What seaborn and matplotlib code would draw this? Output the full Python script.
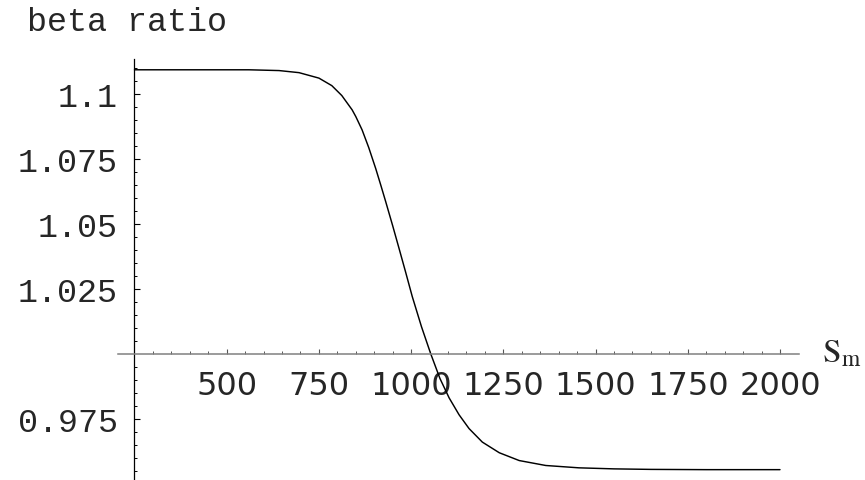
import numpy as np
import pandas as pd
import matplotlib
matplotlib.use("Agg")
import matplotlib.pyplot as plt
import seaborn as sns
from matplotlib.ticker import FixedLocator

# values
s_m = [250, 400, 560, 642, 696, 750, 785, 812, 840, 850, 867, 885, 904, 918, 931,
       950, 967, 985, 1003, 1028, 1053, 1078, 1103, 1130, 1157, 1193, 1239, 1293,
       1365, 1455, 1550, 1650, 1800, 2000]
beta_ratio = [1.1092, 1.1092, 1.1092, 1.1089, 1.1081, 1.1060, 1.1031, 1.0993, 1.0938, 1.0912,
              1.0861, 1.0793, 1.0712, 1.0647, 1.0585, 1.0492, 1.0406, 1.0314, 1.0220, 1.0104,
              1.0000, 0.9905, 0.9830, 0.9765, 0.9712, 0.9660, 0.9619, 0.9589, 0.9570, 0.9561,
              0.9557, 0.9555, 0.9554, 0.9554]

x_ticks = [500, 750, 1000, 1250, 1500, 1750, 2000]
y_ticks = [0.975, 1.025, 1.05, 1.075, 1.1]
y_labels = ["0.975", "1.025", "1.05", "1.075", "1.1"]

df = pd.DataFrame({"Sm": s_m, "beta": beta_ratio})

sns.set_style("white")
plt.rcParams["font.family"] = ["DejaVu Sans"]
plt.rcParams["mathtext.fontset"] = "stix"

fig = plt.figure(figsize=(8.65, 4.81), dpi=100)
W, H = 865, 481
# axes box in pixels: x 118..799, y 60..481
ax = fig.add_axes([118 / W, 0 / H, (799 - 118) / W, (481 - 60) / H])

sns.lineplot(data=df, x="Sm", y="beta", color="black", linewidth=1.05, ax=ax)

ax.set_xlim(205.3, 2051.5)
ax.set_ylim(0.95142, 1.11335)

for s in ["top", "right"]:
    ax.spines[s].set_visible(False)
ax.spines["left"].set_position(("data", 250))
ax.spines["bottom"].set_position(("data", 1.0))
ax.spines["left"].set_color("black")
ax.spines["bottom"].set_color("#808080")
ax.spines["left"].set_linewidth(0.9)
ax.spines["bottom"].set_linewidth(1.1)

ax.xaxis.set_major_locator(FixedLocator(x_ticks))
ax.xaxis.set_minor_locator(FixedLocator([v for v in range(300, 2001, 50) if v % 250]))
ax.yaxis.set_major_locator(FixedLocator(y_ticks))
minor_y = [round(0.955 + 0.005 * i, 3) for i in range(32)]
minor_y = [v for v in minor_y if v not in (0.975, 1.0, 1.025, 1.05, 1.075, 1.1)]
ax.yaxis.set_minor_locator(FixedLocator(minor_y))
ax.set_xticklabels([str(v) for v in x_ticks])
ax.set_yticklabels(y_labels)

ax.tick_params(axis="x", which="both", bottom=True, top=False)
ax.tick_params(axis="y", which="both", left=True, right=False)
ax.tick_params(axis="x", which="major", direction="in", length=3.5, width=0.8, color="#555555",
               pad=12, labelsize=23)
ax.tick_params(axis="x", which="minor", direction="in", length=2, width=0.7, color="#555555")
ax.tick_params(axis="y", which="major", direction="in", length=4, width=0.8, color="black",
               pad=12, labelsize=24)
ax.tick_params(axis="y", which="minor", direction="in", length=2.5, width=0.7, color="black")
for lab in ax.get_yticklabels():
    lab.set_family("Liberation Mono")

ax.set_xlabel("")
ax.set_ylabel("")
ax.patch.set_alpha(0)

fig.text(27 / W, 1 - 31 / H, "beta ratio", family="Liberation Mono", fontsize=24,
         ha="left", va="baseline")
fig.text(822 / W, 1 - 363 / H, r"$\mathrm{S}_{\mathrm{m}}$", fontsize=24,
         ha="left", va="baseline")

fig.savefig("out.png", dpi=100)
